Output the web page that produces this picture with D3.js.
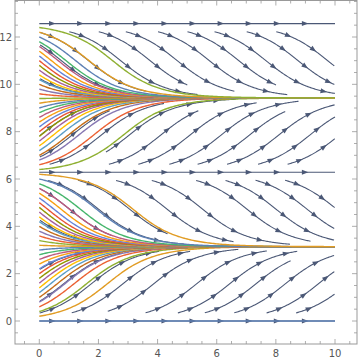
<!DOCTYPE html>
<html><head><meta charset="utf-8">
<script src="https://cdn.jsdelivr.net/npm/d3@7"></script>
<style>html,body{margin:0;padding:0;background:#fff;}</style>
</head><body>
<svg id="c" width="360" height="361"></svg>
<script>
// ---- data ----
// initial values of the solution curves of y' = sin(y), started at x = 0
const initialValues = [0,0.2,0.4,0.6,0.8,1,1.2,1.4,1.6,1.8,2,2.2,2.4,2.6,2.8,3,3.2,3.4,3.6,3.8,4,4.2,4.4,4.6,4.8,5,5.2,5.4,5.6,5.8,6,6.2,6.4,6.6,6.8,7,7.2,7.4,7.6,7.8,8,8.2,8.4,8.6,8.8,9,9.2,9.4,9.6,9.8,10,10.2,10.4,10.6,10.8,11,11.2,11.4,11.6,11.8,12,12.2,12.4];
// streamline seeds (x, y) for the direction field
const equilibriumSeeds = [0, 6.2832, 12.5664];
const seedXs = [5.5,8.5,2.5,7,4,9.5,1,6.5,3.5];
const seedYs = [0.25,0.75,1.25,1.75,2.25,2.75,3.25,3.75,4.25,4.75,5.25,5.75,6.25,6.75,7.25,7.75,8.25,8.75,9.25,9.75,10.25,10.75,11.25,11.75,12.25];
const xTicks = [0,2,4,6,8,10];
const yTicks = [0,2,4,6,8,10,12];
const palette = ["#5E81B5","#E19C24","#8FB032","#EB6235","#8778B3","#C56E1A","#5D9EC7","#FFBF00","#A5609D","#929600","#E95536","#6685D9","#F89F13","#BC5B80","#47B66D"];

// ---- layout ----
const svg = d3.select("#c");
const x = d3.scaleLinear([0,10],[39.3,335]);
const y = d3.scaleLinear([0,12],[321,37]);
const frame = {l:15, r:357, t:0.5, b:344};
const field = v => Math.sin(v);
const TWO_PI = 2*Math.PI, YMAX = 4*Math.PI;

function solution(y0, t){
  const n = Math.floor(y0/TWO_PI), base = n*TWO_PI, u = y0-base;
  if (u === 0) return y0;
  const k = Math.tan(u/2)*Math.exp(t);
  let v = 2*Math.atan(k);
  if (k < 0) v += TWO_PI;
  return base+v;
}

svg.append("clipPath").attr("id","pc").append("rect")
  .attr("x",frame.l).attr("y",frame.t).attr("width",frame.r-frame.l).attr("height",frame.b-frame.t);
const g = svg.append("g").attr("clip-path","url(#pc)");
const streamG = g.append("g");
const curveG = g.append("g");

// streamlines (evenly spaced tracing)
const kx = x(1)-x(0), ky = y(0)-y(1);
const dsep = 15, dtest = 8, maxHalf = 110, stepPx = 1;
const cell = dsep, grid = new Map();
function key(i,j){return i+","+j;}
function addPt(p,id){const i=Math.floor(p[0]/cell), j=Math.floor(p[1]/cell);const kk=key(i,j);if(!grid.has(kk))grid.set(kk,[]);grid.get(kk).push([p[0],p[1],id]);}
function near(px,py,d,id){
  const i=Math.floor(px/cell), j=Math.floor(py/cell);
  for(let a=i-1;a<=i+1;a++)for(let b=j-1;b<=j+1;b++){
    const arr=grid.get(key(a,b)); if(!arr) continue;
    for(const q of arr){ if(q[2]===id) continue; const dx=q[0]-px, dy=q[1]-py; if(dx*dx+dy*dy<d*d) return true; }
  }
  return false;
}
function trace(x0,y0,dir,id){
  const pts=[]; let cx=x0, cy=y0, len=0;
  while(len<maxHalf){
    const vx=kx, vy=-field(cy)*ky, m=Math.hypot(vx,vy);
    const nx=cx+dir*stepPx*(vx/m)/kx, ny=cy-dir*stepPx*(vy/m)/ky;
    if(nx<0||nx>10||ny<-1e-9||ny>YMAX+1e-9) break;
    if(near(x(nx),y(ny),dtest,id)) break;
    cx=nx; cy=ny; len+=stepPx; pts.push([cx,cy]);
  }
  return pts;
}
const streams=[];
function seed(sx,sy){
  if(near(x(sx),y(sy),dsep,-1)) return;
  const id=streams.length;
  const back=trace(sx,sy,-1,id).reverse();
  const fwd=trace(sx,sy,1,id);
  const pts=back.concat([[sx,sy]],fwd);
  if(pts.length<24) return;
  pts.forEach(p=>addPt([x(p[0]),y(p[1])],id));
  streams.push(pts);
}
equilibriumSeeds.forEach(v=>{
  const id=streams.length; const pts=[];
  d3.range(0,10.0001,0.05).forEach(t=>pts.push([t,v]));
  pts.forEach(p=>addPt([x(p[0]),y(p[1])],id)); streams.push(pts);
});
seedXs.forEach(sx=>seedYs.forEach(sy=>seed(sx,sy)));

const sColor="#4b5876";
const sl = d3.line().x(d=>x(d[0])).y(d=>y(d[1]));
streams.forEach(pts=>{
  streamG.append("path").attr("d",sl(pts)).attr("fill","none").attr("stroke",sColor).attr("stroke-width",1.1);
  const P=pts.map(p=>[x(p[0]),y(p[1])]);
  let acc=0, next=16;
  for(let i=1;i<P.length;i++){
    acc+=Math.hypot(P[i][0]-P[i-1][0],P[i][1]-P[i-1][1]);
    if(acc>=next && i<P.length-3){
      const a=Math.atan2(P[i][1]-P[i-1][1],P[i][0]-P[i-1][0]);
      const tip=P[i], L=6.5, w=2.5;
      const bx=tip[0]-L*Math.cos(a), by=tip[1]-L*Math.sin(a);
      const pts3=[tip,[bx-w*Math.sin(a),by+w*Math.cos(a)],[bx+w*Math.sin(a),by-w*Math.cos(a)]];
      streamG.append("path").attr("d","M"+pts3.map(p=>p.join(",")).join("L")+"Z").attr("fill",sColor);
      next+=28;
    }
  }
});

// solution curves (drawn over the field)
const xs = d3.range(0,10.0001,0.05);
const line = d3.line().x(d=>x(d[0])).y(d=>y(d[1]));
initialValues.forEach((y0,i)=>{
  curveG.append("path").attr("d", line(xs.map(t=>[t, solution(y0,t)])))
   .attr("fill","none").attr("stroke",palette[i%palette.length]).attr("stroke-width",1.4);
});

// frame & ticks
const fc="#999";
svg.append("rect").attr("x",frame.l).attr("y",frame.t).attr("width",frame.r-frame.l).attr("height",frame.b-frame.t)
  .attr("fill","none").attr("stroke",fc).attr("stroke-width",1);
const minorX = d3.range(-0.5,10.51,0.5), minorY = d3.range(-0.5,13.51,0.5);
const tg = svg.append("g").attr("stroke",fc).attr("stroke-width",0.8);
minorX.forEach(v=>{
  const major = xTicks.includes(v), L = major?5:3, px=x(v);
  if(px<frame.l||px>frame.r) return;
  tg.append("line").attr("x1",px).attr("x2",px).attr("y1",frame.b).attr("y2",frame.b-L);
  tg.append("line").attr("x1",px).attr("x2",px).attr("y1",frame.t).attr("y2",frame.t+L);
});
minorY.forEach(v=>{
  const major = yTicks.includes(v), L = major?5:3, py=y(v);
  if(py<frame.t||py>frame.b) return;
  tg.append("line").attr("y1",py).attr("y2",py).attr("x1",frame.l).attr("x2",frame.l+L);
  tg.append("line").attr("y1",py).attr("y2",py).attr("x1",frame.r).attr("x2",frame.r-L);
});
const lc="#555", ff="'DejaVu Sans', sans-serif";
xTicks.forEach(v=>svg.append("text").attr("x",x(v)).attr("y",357).attr("text-anchor","middle")
  .attr("font-family",ff).attr("font-size",10).attr("fill",lc).text(v));
yTicks.forEach(v=>svg.append("text").attr("x",12).attr("y",y(v)+3.5).attr("text-anchor","end")
  .attr("font-family",ff).attr("font-size",10).attr("fill",lc).text(v));
</script>
</body></html>
